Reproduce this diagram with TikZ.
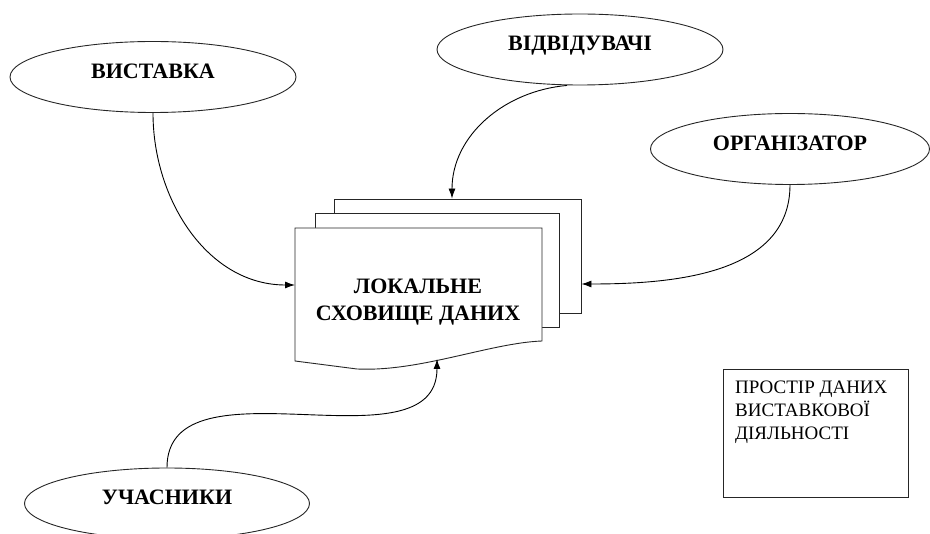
\documentclass[tikz,border=0pt]{standalone}
\usepackage{fontspec}
\setmainfont{Liberation Serif}
\usetikzlibrary{shapes.geometric, arrows.meta}
\tikzstyle{actor} = [ellipse, draw=black!85, line width=0.9pt, minimum width=286pt, minimum height=71pt, inner sep=0pt, font=\fontsize{22}{24}\selectfont\bfseries, text depth=12pt]
\tikzstyle{sheet} = [rectangle, draw=black!85, fill=white, line width=0.9pt, minimum height=114pt]
\tikzstyle{frame} = [rectangle, draw=black!85, line width=0.9pt, minimum width=185pt, minimum height=128pt]
\tikzstyle{arrow} = [line width=0.9pt, -{Latex[length=10pt,width=7pt]}]

\begin{document}
\begin{tikzpicture}[x=1pt, y=-1pt]
	\clip (0,0) rectangle (930,534);

	\node (vystavka) [actor] at (153,77) {ВИСТАВКА};
	\node (vidvid) [actor] at (580,49.5) {ВІДВІДУВАЧІ};
	\node (org) [actor, minimum width=279pt] at (790,149) {ОРГАНІЗАТОР};
	\node (uchasn) [actor, minimum width=285pt] at (167,503.5) {УЧАСНИКИ};

	% stack of sheets
	\node (sheet3) [sheet, minimum width=247pt] at (457.5,256) {};
	\node (sheet2) [sheet, minimum width=244pt] at (437,270) {};
	\coordinate (front nw) at (295,228);
	\coordinate (front ne) at (542,228);
	\coordinate (front se) at (542,341);
	\coordinate (front sw) at (295,361);
	\coordinate (front w) at (295,285);
	\coordinate (front s) at (437,359);
	\draw [draw=black!85, fill=white, line width=0.9pt] (front nw) -- (front ne) -- (front se)
		.. controls (490,343) and (420,372) .. (357,369) -- (front sw) -- cycle;
	\node (store) [font=\fontsize{22}{27}\selectfont\bfseries, align=center] at (418,302) {ЛОКАЛЬНЕ\\СХОВИЩЕ ДАНИХ};

	\draw [arrow] (vystavka.south) to[out=-90, in=180] (front w);
	\draw [arrow] ([xshift=-13pt]vidvid.south) to[out=185, in=90] ([xshift=-5.5pt]sheet3.north);
	\draw [arrow] (org.south) to[out=-90, in=0] ([yshift=-28pt]sheet3.east);
	\draw [arrow] (uchasn.north) to[out=90, in=-90] (front s);

	\node (space) [frame] at (815.5,433) {};
	\node (spacetext) [anchor=north west, align=left, inner sep=0pt, font=\fontsize{19}{23}\selectfont] at (735,381) {ПРОСТІР ДАНИХ\\ВИСТАВКОВОЇ\\ДІЯЛЬНОСТІ};
\end{tikzpicture}
\end{document}
